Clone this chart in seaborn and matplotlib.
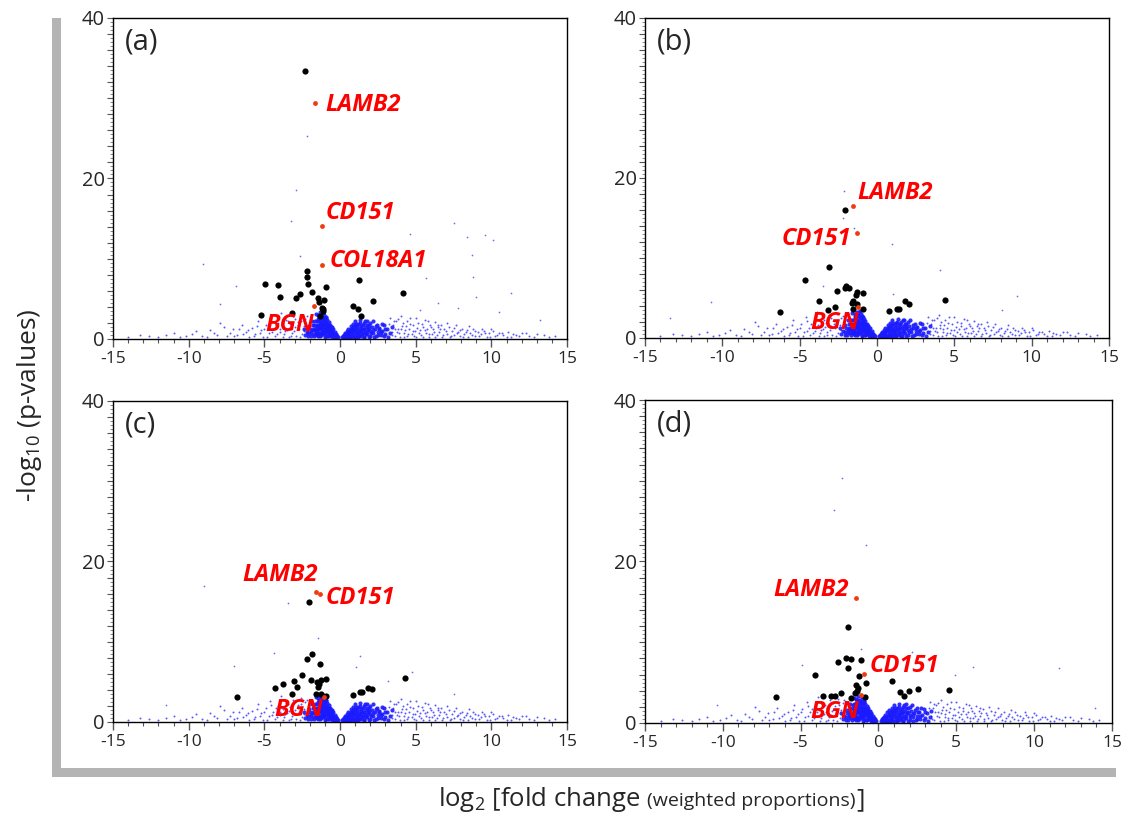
import matplotlib
matplotlib.use("Agg")
import matplotlib.pyplot as plt
import seaborn as sns
import pandas as pd
from matplotlib.patches import Rectangle
from matplotlib.ticker import MultipleLocator, FuncFormatter

# ---- background genes (blue cloud) ----
core = [(-0.15, 0.2), (-0.25, 0.5), (-0.3, 0.2), (-0.35, 0.9), (-0.4, 0.5), (-0.45, 1.2),
        (-0.5, 0.3), (-0.5, 0.8), (-0.55, 1.5), (-0.6, 1.1), (-0.6, 0.5), (-0.65, 1.8),
        (-0.7, 0.8), (-0.7, 1.4), (-0.75, 2.1), (-0.8, 0.4), (-0.8, 1.1), (-0.8, 1.7),
        (-0.85, 2.4), (-0.9, 0.7), (-0.9, 1.4), (-0.9, 2.0), (-0.95, 2.7), (-1.0, 0.3),
        (-1.0, 1.0), (-1.0, 1.7), (-1.0, 2.3), (-1.05, 3.0), (-1.1, 0.6), (-1.1, 1.3),
        (-1.1, 2.0), (-1.1, 2.6), (-1.15, 3.3), (-1.2, 0.9), (-1.2, 1.6), (-1.2, 2.3),
        (-1.25, 2.9), (-1.3, 0.4), (-1.3, 1.2), (-1.3, 1.9), (-1.35, 2.6), (-1.4, 0.8),
        (-1.4, 1.5), (-1.4, 2.2), (-1.45, 3.0), (-1.5, 0.5), (-1.5, 1.1), (-1.5, 1.8),
        (-1.6, 0.8), (-1.6, 1.4), (-1.65, 2.2), (-1.7, 0.4), (-1.75, 1.1), (-1.8, 1.7),
        (-1.9, 0.7), (-2.0, 1.2), (-2.1, 0.4), (-2.2, 0.9),
        (-0.2, 0.35), (-0.3, 0.65), (-0.4, 0.25), (-0.45, 0.75), (-0.5, 1.1), (-0.55, 0.45),
        (-0.6, 1.45), (-0.65, 0.75), (-0.7, 1.1), (-0.75, 0.4), (-0.75, 1.75), (-0.85, 1.0),
        (-0.85, 1.5), (-0.9, 2.6), (-0.95, 0.4), (-0.95, 1.2), (-0.95, 1.85), (-1.05, 0.7),
        (-1.05, 1.5), (-1.05, 2.5), (-1.1, 3.4), (-1.15, 1.0), (-1.15, 1.8), (-1.2, 2.7),
        (-1.25, 0.5), (-1.25, 1.4), (-1.25, 2.1), (-1.3, 3.3), (-1.35, 0.8), (-1.35, 1.7),
        (-1.4, 2.8), (-1.45, 0.4), (-1.45, 1.3), (-1.45, 2.5), (-1.55, 0.7), (-1.55, 1.6),
        (-1.55, 2.3), (-1.6, 3.1), (-1.65, 1.1), (-1.7, 1.8), (-1.75, 0.6), (-1.8, 1.3),
        (-1.85, 2.3), (-1.9, 1.0), (-1.95, 0.4), (-2.05, 1.6), (-2.1, 0.8), (-2.3, 0.5),
        (-2.4, 1.2),
        (0.15, 0.2), (0.25, 0.45), (0.3, 0.15), (0.35, 0.8), (0.4, 0.4), (0.45, 1.0),
        (0.5, 0.2), (0.5, 0.7), (0.55, 1.3), (0.6, 0.4), (0.65, 1.0), (0.7, 1.6),
        (0.7, 0.2), (0.75, 0.7), (0.8, 1.3), (0.85, 1.9), (0.9, 0.4), (0.95, 1.0),
        (1.0, 1.6), (1.0, 2.2), (1.05, 0.2), (1.1, 0.7), (1.15, 1.3), (1.2, 1.9),
        (1.25, 0.4), (1.3, 1.0), (1.35, 2.4), (1.4, 1.6), (1.45, 0.6), (1.5, 1.2),
        (1.55, 2.0), (1.6, 0.3), (1.65, 0.9), (1.7, 1.5), (1.75, 2.3), (1.8, 0.6),
        (1.85, 1.2), (1.9, 1.8), (2.0, 0.4), (2.0, 1.0), (2.1, 1.5), (2.15, 2.2),
        (2.2, 0.7), (2.3, 1.2), (2.4, 0.4), (2.45, 1.8), (2.5, 0.9), (2.6, 1.4),
        (2.7, 0.5), (2.8, 1.0), (2.9, 1.7), (3.0, 0.6), (3.1, 1.2), (3.2, 0.3),
        (0.2, 0.35), (0.3, 0.6), (0.4, 0.15), (0.45, 0.6), (0.55, 0.35), (0.6, 0.85),
        (0.65, 0.3), (0.7, 1.2), (0.8, 0.5), (0.8, 0.95), (0.85, 1.5), (0.9, 0.2),
        (0.95, 0.7), (1.0, 1.25), (1.05, 1.9), (1.1, 0.45), (1.1, 1.0), (1.15, 1.6),
        (1.2, 0.2), (1.25, 0.8), (1.3, 1.4), (1.3, 2.0), (1.4, 0.4), (1.4, 1.1),
        (1.5, 0.8), (1.5, 1.7), (1.55, 0.2), (1.6, 1.3), (1.65, 2.2), (1.7, 0.6),
        (1.75, 1.0), (1.8, 1.8), (1.9, 0.3), (1.9, 1.4), (2.0, 2.0), (2.05, 0.8),
        (2.2, 1.1), (2.25, 0.3), (2.35, 1.6), (2.5, 0.5), (2.55, 1.3), (2.7, 0.9),
        (2.75, 1.9), (2.9, 0.4), (3.0, 1.3), (3.3, 0.8), (3.4, 1.5)]

tail = [(-2.3, 2.5), (-2.4, 1.6), (-2.5, 0.6), (-2.6, 3.0), (-2.7, 1.2), (-2.8, 2.1),
        (-2.9, 0.4), (-3.0, 1.5), (-3.1, 2.8), (-3.2, 0.8), (-3.3, 1.9), (-3.4, 0.3),
        (-3.5, 1.1), (-3.6, 2.4), (-3.7, 0.6), (-3.8, 1.6), (-3.9, 3.2), (-4.0, 0.9),
        (-4.1, 2.0), (-4.3, 0.4), (-4.4, 1.3), (-4.6, 2.6), (-4.7, 0.7), (-4.9, 1.7),
        (-5.1, 0.3), (-5.2, 1.1), (-5.4, 2.2), (-5.6, 0.6), (-5.8, 1.4), (-6.0, 0.3),
        (-6.2, 0.9), (-6.5, 1.8), (-6.8, 0.5), (-7.1, 1.2), (-7.5, 0.4), (-7.9, 2.0),
        (-8.3, 0.8), (-8.8, 0.3), (-9.5, 1.0), (-10.2, 0.4), (-11.0, 0.7), (-12.0, 0.3),
        (-13.2, 0.5),
        (-2.2, 2.8), (-2.35, 1.0), (-2.55, 2.2), (-2.65, 0.3), (-2.75, 1.7), (-2.95, 2.5),
        (-3.05, 1.0), (-3.25, 0.4), (-3.35, 1.4), (-3.45, 2.2), (-3.65, 1.0), (-3.75, 0.3),
        (-3.95, 1.3), (-4.15, 0.6), (-4.25, 1.7), (-4.5, 0.9), (-4.55, 2.1), (-4.8, 0.3),
        (-5.0, 1.3), (-5.3, 0.8), (-5.5, 1.6), (-5.7, 0.4), (-6.1, 1.1), (-6.4, 0.6),
        (-6.7, 1.3), (-7.0, 0.4), (-7.3, 0.8), (-7.7, 1.5), (-8.1, 0.5), (-8.6, 1.1),
        (-9.1, 0.4), (-9.8, 0.6), (-10.6, 0.3), (-11.5, 0.5), (-12.6, 0.4), (-14.0, 0.3),
        (3.3, 2.6), (3.4, 0.9), (3.5, 1.8), (3.6, 0.4), (3.7, 2.2), (3.8, 1.3),
        (3.9, 0.7), (4.0, 2.9), (4.1, 1.6), (4.2, 0.3), (4.3, 1.1), (4.4, 2.3),
        (4.5, 0.6), (4.6, 1.9), (4.8, 1.0), (4.9, 0.4), (5.0, 2.6), (5.1, 1.4),
        (5.2, 0.7), (5.4, 1.9), (5.5, 0.3), (5.6, 1.1), (5.8, 2.2), (5.9, 0.6),
        (6.0, 1.5), (6.2, 0.9), (6.3, 0.3), (6.5, 1.8), (6.6, 1.2), (6.8, 0.5),
        (7.0, 1.0), (7.1, 2.0), (7.3, 0.4), (7.5, 1.4), (7.7, 0.7), (7.9, 1.1),
        (8.1, 0.3), (8.3, 0.9), (8.5, 1.6), (8.7, 0.5), (8.9, 1.0), (9.2, 0.4),
        (9.4, 1.3), (9.6, 0.7), (9.9, 0.3), (10.1, 1.0), (10.4, 0.5), (10.7, 0.8),
        (11.0, 0.3), (11.4, 0.6), (11.8, 0.4), (12.3, 0.7), (12.8, 0.3), (13.5, 0.5),
        (14.2, 0.4),
        (3.25, 1.9), (3.45, 0.5), (3.55, 2.3), (3.65, 1.3), (3.75, 0.9), (3.85, 2.5),
        (3.95, 0.3), (4.05, 1.2), (4.15, 2.0), (4.25, 0.8), (4.35, 1.6), (4.45, 0.4),
        (4.55, 1.3), (4.65, 2.6), (4.75, 0.6), (4.85, 1.7), (4.95, 1.0), (5.05, 0.3),
        (5.15, 2.0), (5.3, 1.1), (5.35, 0.5), (5.45, 1.5), (5.6, 2.4), (5.7, 0.8),
        (5.75, 1.3), (5.85, 0.3), (5.95, 1.8), (6.1, 0.6), (6.15, 1.2), (6.25, 2.1),
        (6.4, 0.5), (6.45, 1.5), (6.55, 0.9), (6.7, 1.7), (6.75, 0.3), (6.9, 1.2),
        (7.05, 0.6), (7.2, 1.5), (7.25, 0.3), (7.4, 1.0), (7.55, 0.5), (7.65, 1.8),
        (7.8, 0.9), (7.95, 0.4), (8.05, 1.3), (8.2, 0.6), (8.4, 1.1), (8.45, 0.3),
        (8.6, 0.8), (8.8, 1.3), (8.95, 0.4), (9.1, 0.9), (9.3, 0.6), (9.5, 1.0),
        (9.7, 0.3), (9.85, 0.7), (10.0, 1.2), (10.25, 0.4), (10.5, 0.8), (10.8, 0.5),
        (11.1, 0.9), (11.3, 0.3), (11.6, 0.5), (12.0, 0.7), (12.5, 0.4), (13.0, 0.6),
        (13.8, 0.3)]

outliers_a = [(-2.16, 25.3), (-2.93, 18.5), (-3.24, 14.7), (-2.65, 10.3), (-9.04, 9.3),
              (-6.9, 6.6), (-7.9, 4.4), (7.5, 14.4), (9.6, 13.0), (10.1, 12.3), (8.4, 12.7),
              (4.6, 13.1), (8.75, 10.5), (8.8, 7.7), (4.4, 10.8), (5.7, 7.6), (11.3, 5.7),
              (13.2, 2.4), (6.5, 4.5), (7.8, 3.9), (9.0, 5.2), (10.5, 3.3), (5.3, 3.6)]
outliers_b = [(-2.11, 18.4), (-2.22, 15.0), (-1.49, 13.75), (0.99, 11.75), (4.07, 8.5),
              (-3.51, 6.5), (-10.73, 4.5), (-13.4, 2.5), (9.03, 5.2), (8.06, 3.5), (1.06, 5.5)]
outliers_c = [(-9.0, 16.9), (-3.44, 14.8), (-1.45, 10.5), (-4.38, 8.6), (-7.03, 7.0),
              (1.34, 8.25), (1.06, 6.9), (4.76, 6.26), (3.2, 5.1), (-11.5, 2.15), (7.5, 3.5)]
outliers_d = [(-2.36, 30.3), (-2.85, 26.4), (-0.81, 22.1), (-1.11, 9.1), (2.14, 8.8),
              (-4.89, 7.2), (11.6, 6.75), (6.06, 6.9), (4.93, 5.9), (-10.4, 2.2), (13.9, 1.8)]

# ---- highlighted genes (black) ----
black_a = [(-2.29, 33.4), (-2.18, 8.5), (-2.18, 7.77), (-2.11, 6.85), (-4.96, 6.85),
           (-4.10, 6.77), (-0.95, 6.48), (-3.99, 5.27), (-2.67, 5.65), (-2.93, 5.11),
           (-1.83, 5.90), (-1.48, 5.11), (-1.41, 4.57), (-1.04, 4.82), (-1.21, 3.86),
           (-1.12, 3.45), (-1.30, 2.91), (-3.15, 3.24), (-5.25, 3.03), (1.24, 7.35),
           (4.19, 5.77), (2.21, 4.78), (0.84, 4.07), (1.19, 3.70), (1.41, 2.82), (-1.10, 3.74)]
black_b = [(-2.07, 16.0), (-3.10, 8.88), (-4.68, 7.21), (-2.00, 6.46), (-2.05, 6.25),
           (-1.81, 6.21), (-2.59, 5.83), (-1.31, 5.71), (-1.38, 5.38), (-0.93, 5.58),
           (-3.75, 4.63), (-1.53, 4.67), (-1.59, 4.38), (-1.27, 4.25), (-2.72, 3.92),
           (-3.15, 3.54), (-1.57, 3.63), (-0.91, 3.63), (-6.29, 3.29), (0.78, 3.42),
           (1.27, 3.58), (1.44, 3.67), (1.81, 4.63), (2.07, 4.29), (4.40, 4.71)]
black_c = [(-2.05, 14.96), (-1.83, 8.46), (-2.16, 7.83), (-1.32, 7.17), (-2.51, 5.84),
           (-0.90, 5.35), (-1.94, 5.22), (-1.26, 5.26), (-1.54, 4.97), (-1.39, 4.77),
           (-3.02, 5.06), (-3.77, 4.68), (-4.32, 4.27), (-2.84, 4.31), (-1.48, 4.31),
           (-3.15, 3.48), (-1.61, 3.48), (-1.26, 3.48), (-0.95, 3.19), (-6.78, 3.07),
           (0.84, 3.40), (1.34, 3.69), (1.48, 3.77), (1.85, 4.27), (2.09, 4.10), (4.27, 5.43)]
black_d = [(-1.93, 11.84), (-2.06, 8.07), (-1.78, 7.95), (-1.11, 7.83), (-2.57, 7.58),
           (-1.97, 6.87), (-1.24, 5.76), (-4.07, 5.88), (-1.44, 4.76), (-0.79, 4.97),
           (-1.33, 4.31), (-1.48, 3.77), (-1.39, 3.93), (-2.40, 3.77), (-3.54, 3.40),
           (-3.04, 3.40), (-2.77, 3.40), (-1.78, 3.11), (-0.86, 3.23), (-6.60, 3.23),
           (0.90, 5.18), (1.41, 3.81), (1.61, 3.40), (1.97, 4.02), (2.51, 4.22), (4.56, 4.06)]

# ---- labelled genes (red) ----
red_a = {"LAMB2": (-1.63, 29.4), "CD151": (-1.19, 14.08), "COL18A1": (-1.21, 9.22), "BGN": (-1.72, 4.07)}
red_b = {"LAMB2": (-1.55, 16.5), "CD151": (-1.31, 13.17), "BGN": (-1.21, 3.83)}
red_c = {"LAMB2": (-1.59, 16.25), "CD151": (-1.34, 16.0), "BGN": (-1.08, 3.15)}
red_d = {"LAMB2": (-1.46, 15.49), "CD151": (-0.90, 6.05), "BGN": (-1.11, 3.52)}

panels = ["(a)", "(b)", "(c)", "(d)"]

# label placement: (x, y, ha)
label_pos = [
    {"LAMB2": (-0.99, 29.2, "left"), "CD151": (-0.95, 15.7, "left"),
     "COL18A1": (-0.71, 9.7, "left"), "BGN": (-1.72, 1.8, "right")},
    {"LAMB2": (-1.27, 18.1, "left"), "CD151": (-1.70, 12.4, "right"), "BGN": (-1.14, 1.9, "right")},
    {"LAMB2": (-1.45, 18.3, "right"), "CD151": (-0.97, 15.4, "left"), "BGN": (-1.12, 1.5, "right")},
    {"LAMB2": (-1.87, 16.5, "right"), "CD151": (-0.60, 7.1, "left"), "BGN": (-1.22, 1.4, "right")},
]

sns.set_style("ticks")
plt.rcParams["font.family"] = ["Open Sans", "DejaVu Sans"]
plt.rcParams["mathtext.fontset"] = "custom"
plt.rcParams["mathtext.rm"] = "Open Sans"
plt.rcParams["mathtext.it"] = "Open Sans:italic"
plt.rcParams["axes.unicode_minus"] = False

fig = plt.figure(figsize=(11.26, 8.16), dpi=100)

rects = [(0.1004, 0.5846, 0.4032, 0.3934), (0.5728, 0.5858, 0.4121, 0.3922),
         (0.1004, 0.1152, 0.4032, 0.3934), (0.5728, 0.1140, 0.4147, 0.3958)]
outliers = [outliers_a, outliers_b, outliers_c, outliers_d]
blacks = [black_a, black_b, black_c, black_d]
reds = [red_a, red_b, red_c, red_d]

core_df = pd.DataFrame(core, columns=["x", "y"])
tail_df = pd.DataFrame(tail, columns=["x", "y"])

for i in range(4):
    ax = fig.add_axes(rects[i])
    out_df = pd.DataFrame(outliers[i], columns=["x", "y"])
    blk = pd.DataFrame(blacks[i], columns=["x", "y"])
    red = pd.DataFrame([(k, v[0], v[1]) for k, v in reds[i].items()], columns=["gene", "x", "y"])

    sns.scatterplot(data=tail_df, x="x", y="y", ax=ax, color="#5a5aff", s=2, linewidth=0)
    sns.scatterplot(data=core_df, x="x", y="y", ax=ax, color="#1a1aff", s=9, linewidth=0, alpha=0.9)
    sns.scatterplot(data=out_df, x="x", y="y", ax=ax, color="#6a6aff", s=1.5, linewidth=0)
    sns.scatterplot(data=blk, x="x", y="y", ax=ax, color="black", s=20, linewidth=0, zorder=3)
    sns.scatterplot(data=red, x="x", y="y", ax=ax, color="#f03a10", s=12, linewidth=0, zorder=4)

    for g, (tx, ty, ha) in label_pos[i].items():
        ax.text(tx, ty, g, color="#ff0000", fontsize=17, fontweight="bold", fontstyle="italic",
                ha=ha, va="center", zorder=5)

    ax.text(0.025, 0.925, panels[i], transform=ax.transAxes, fontsize=21, va="center", ha="left")

    ax.set_xlim(-15, 15)
    ax.set_ylim(0, 40)
    ax.set_xlabel("")
    ax.set_ylabel("")
    ax.xaxis.set_major_locator(MultipleLocator(5))
    ax.xaxis.set_minor_locator(MultipleLocator(1))
    ax.yaxis.set_major_locator(MultipleLocator(2))
    ax.yaxis.set_minor_locator(MultipleLocator(0.5))
    ax.yaxis.set_major_formatter(FuncFormatter(lambda v, p: f"{v:.0f}" if v % 20 == 0 else ""))
    ax.tick_params(axis="x", which="major", length=6, width=1, color="#555555", labelsize=12.5, pad=3)
    ax.tick_params(axis="x", which="minor", length=3, width=0.8, color="#555555")
    ax.tick_params(axis="y", which="major", length=4, width=0.8, color="#555555", labelsize=14.5, pad=2)
    ax.tick_params(axis="y", which="minor", length=2, width=0.6, color="#777777")
    for sp in ax.spines.values():
        sp.set_visible(True)
        sp.set_color("black")
        sp.set_linewidth(1.0)

# grey L-shaped frame
gray = "#b4b4b4"
fig.add_artist(Rectangle((52 / 1126, 1 - 777 / 816), 9 / 1126, 759 / 816, transform=fig.transFigure,
                         color=gray, lw=0))
fig.add_artist(Rectangle((52 / 1126, 1 - 777 / 816), 1064 / 1126, 9 / 816, transform=fig.transFigure,
                         color=gray, lw=0))

# axis labels
fig.text(30 / 1126, 1 - 405 / 816, "-log$_{10}$ (p-values)", rotation=90, fontsize=19,
         ha="center", va="center")

renderer = fig.canvas.get_renderer()
parts = [("log$_2$ [fold change", 18.5), ("(weighted proportions)", 14), ("]", 18.5)]
gaps = [7, 0, 0]
texts = []
for s, fs in parts:
    texts.append(fig.text(0, 1 - 806 / 816, s, fontsize=fs, ha="left", va="baseline"))
widths = [t.get_window_extent(renderer).width for t in texts]
total = sum(widths) + sum(gaps)
x0 = 651 - total / 2
for t, w, g in zip(texts, widths, gaps):
    t.set_x(x0 / 1126)
    x0 += w + g

fig.savefig("out.png", dpi=100)
